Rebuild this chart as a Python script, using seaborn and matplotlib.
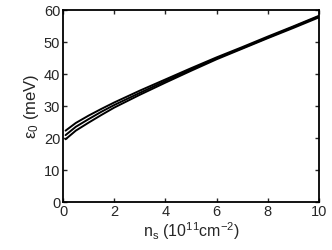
import numpy as np
import pandas as pd
import matplotlib
matplotlib.use("Agg")
import matplotlib.pyplot as plt
import seaborn as sns

# values
ns = [0.1, 0.5, 1, 1.5, 2, 3, 4, 5, 6, 7, 8, 9, 10]
eps_a = [22.3, 24.7, 27.0, 29.1, 31.1, 34.8, 38.3, 41.8, 45.2, 48.4, 51.7, 54.9, 58.2]
eps_b = [20.9, 23.5, 25.9, 28.2, 30.3, 34.1, 37.8, 41.4, 44.9, 48.1, 51.4, 54.7, 58.0]
eps_c = [19.6, 22.3, 24.8, 27.2, 29.5, 33.5, 37.3, 41.0, 44.6, 47.9, 51.2, 54.4, 57.7]

df = pd.DataFrame({
    "ns": ns * 3,
    "eps": eps_a + eps_b + eps_c,
    "curve": ["a"] * len(ns) + ["b"] * len(ns) + ["c"] * len(ns),
})

sns.set_style("ticks")
plt.rcParams["font.family"] = ["Liberation Sans", "DejaVu Sans"]
plt.rcParams["mathtext.fontset"] = "custom"
plt.rcParams["mathtext.rm"] = "Liberation Sans"
plt.rcParams["mathtext.it"] = "Liberation Sans"

fig = plt.figure(figsize=(3.32, 2.5), dpi=100)
ax = fig.add_axes([63 / 332, 48 / 250, 256 / 332, 192 / 250])

sns.lineplot(data=df, x="ns", y="eps", units="curve", estimator=None,
             color="black", linewidth=1.4, ax=ax)

ax.set_xlim(0, 10)
ax.set_ylim(0, 60)
ax.set_xticks([0, 2, 4, 6, 8, 10])
ax.set_yticks([0, 10, 20, 30, 40, 50, 60])
ax.tick_params(direction="in", top=True, right=True, labelsize=10.5,
               length=3, width=1, pad=2)
for s in ax.spines.values():
    s.set_linewidth(1.3)
    s.set_color("black")

ax.set_xlabel(r"n$_\mathregular{s}$ (10$^\mathregular{11}$cm$^\mathregular{-2}$)",
              fontsize=11.5, labelpad=1)
ax.set_ylabel(r"$\mathregular{\varepsilon}_\mathregular{0}$ (meV)", fontsize=12, labelpad=2)

fig.savefig("out.png", dpi=100)
